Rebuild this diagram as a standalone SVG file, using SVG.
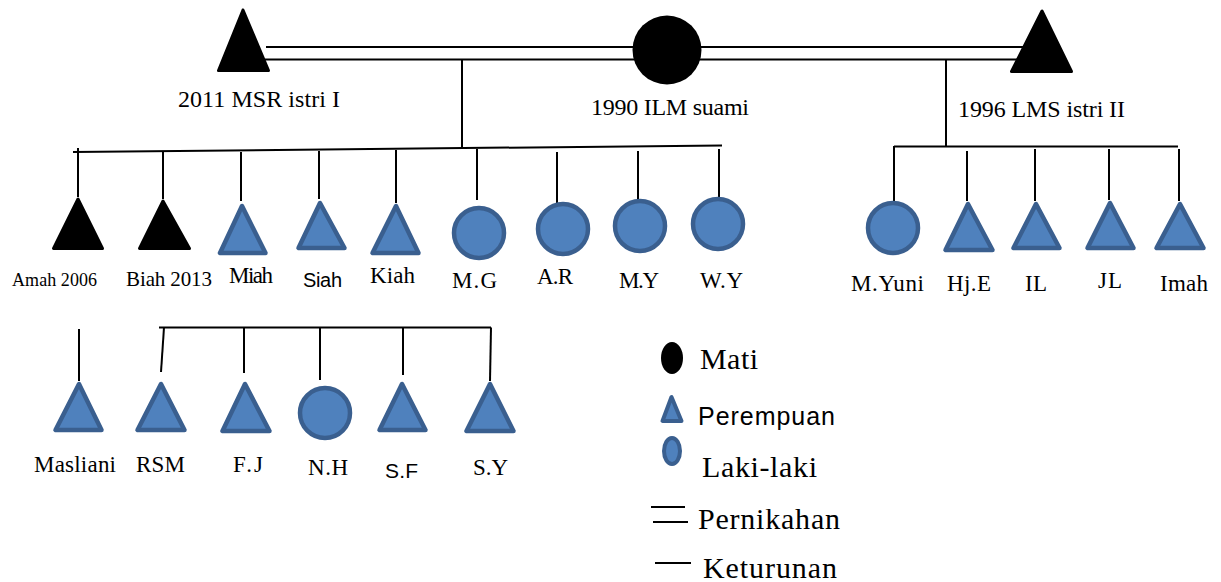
<svg xmlns="http://www.w3.org/2000/svg" width="1221" height="582" viewBox="0 0 1221 582">
<style>
.ln{stroke:#000;stroke-width:2;fill:none}
.dead{fill:#000;stroke:#000;stroke-width:3;stroke-linejoin:round}
.blue{fill:#4F81BD;stroke:#3A5F8F;stroke-width:4.5;stroke-linejoin:round}
.serif{font-family:"Liberation Serif","Times New Roman",serif;fill:#000}
.sans{font-family:"Liberation Sans",Arial,sans-serif;fill:#000}
.cl{font-size:23px}
</style>
<rect width="1221" height="582" fill="#fff"/>
<g id="connectors">
<line class="ln" x1="266" y1="47" x2="1024" y2="47"/>
<line class="ln" x1="265" y1="59.5" x2="1020" y2="59.5"/>
<line class="ln" x1="462" y1="59.5" x2="462" y2="148.5"/>
<line class="ln" x1="73" y1="152" x2="722" y2="145.5"/>
<line class="ln" x1="946" y1="59" x2="946" y2="146.5"/>
<line class="ln" x1="894" y1="146.5" x2="1178" y2="146.5"/>
<line class="ln" x1="78" y1="148" x2="78" y2="197"/>
<line class="ln" x1="163" y1="151" x2="163" y2="199"/>
<line class="ln" x1="241" y1="152" x2="241" y2="201"/>
<line class="ln" x1="319" y1="151" x2="319" y2="199"/>
<line class="ln" x1="396" y1="150" x2="396" y2="203"/>
<line class="ln" x1="477" y1="149" x2="477" y2="200"/>
<line class="ln" x1="557" y1="152" x2="557" y2="203"/>
<line class="ln" x1="638" y1="151" x2="638" y2="202"/>
<line class="ln" x1="719" y1="149" x2="719" y2="200"/>
<line class="ln" x1="894" y1="146" x2="894" y2="201"/>
<line class="ln" x1="967" y1="151" x2="967" y2="201"/>
<line class="ln" x1="1035" y1="149" x2="1035" y2="201"/>
<line class="ln" x1="1109" y1="149" x2="1109" y2="200"/>
<line class="ln" x1="1179" y1="149" x2="1179" y2="201"/>
<line class="ln" x1="79" y1="329" x2="79" y2="381"/>
<line class="ln" x1="159" y1="327.5" x2="491" y2="327.5"/>
<line class="ln" x1="164" y1="327.5" x2="161" y2="372"/>
<line class="ln" x1="244" y1="327.5" x2="244" y2="373"/>
<line class="ln" x1="320" y1="327.5" x2="320" y2="380"/>
<line class="ln" x1="403" y1="327.5" x2="403" y2="375"/>
<line class="ln" x1="491" y1="327.5" x2="490" y2="381"/>
</g>
<g id="node-msr">
<polygon class="dead" points="243,10 218.5,70.5 268.5,70.5"/>
<text class="serif" x="178" y="107" font-size="24" textLength="162">2011 MSR istri I</text>
</g>
<g id="node-ilm">
<circle cx="667" cy="50" r="34.5" fill="#000"/>
<text class="serif" x="591" y="115" font-size="24" textLength="158">1990 ILM suami</text>
</g>
<g id="node-lms">
<polygon class="dead" points="1042,11 1011.5,71.5 1071.5,71.5"/>
<text class="serif" x="958" y="117" font-size="24" textLength="167">1996 LMS istri II</text>
</g>
<g id="node-amah">
<polygon class="dead" points="78,199 53.5,248.5 102.5,248.5"/>
<text class="serif" x="12" y="286" font-size="18" textLength="85">Amah 2006</text>
</g>
<g id="node-biah">
<polygon class="dead" points="163,201 139.5,248.5 189.5,248.5"/>
<text class="serif" x="126" y="286" font-size="21" textLength="86">Biah 2013</text>
</g>
<g id="node-miah">
<polygon class="blue" points="242,206 220,253 265.5,253"/>
<text class="serif cl" x="229" y="283" textLength="44">Miah</text>
</g>
<g id="node-siah">
<polygon class="blue" points="320,203 298.5,248 344.5,248"/>
<text class="sans" x="303" y="287" font-size="20" textLength="39">Siah</text>
</g>
<g id="node-kiah">
<polygon class="blue" points="396,206 372.5,253 418.5,253"/>
<text class="serif cl" x="370" y="283" textLength="45">Kiah</text>
</g>
<g id="node-mg">
<circle class="blue" cx="479" cy="233" r="25"/>
<text class="serif cl" x="452" y="288" textLength="45">M.G</text>
</g>
<g id="node-ar">
<circle class="blue" cx="563" cy="229" r="25"/>
<text class="serif cl" x="537" y="284" textLength="36">A.R</text>
</g>
<g id="node-my">
<circle class="blue" cx="640" cy="226" r="25"/>
<text class="serif cl" x="619" y="288" textLength="40">M.Y</text>
</g>
<g id="node-wy">
<circle class="blue" cx="718" cy="224" r="25"/>
<text class="serif cl" x="700" y="288" textLength="43">W.Y</text>
</g>
<g id="node-myuni">
<circle class="blue" cx="893" cy="228" r="25"/>
<text class="serif cl" x="851" y="291" textLength="73">M.Yuni</text>
</g>
<g id="node-hje">
<polygon class="blue" points="968,204 945.5,250 992.5,250"/>
<text class="serif cl" x="947" y="291" textLength="44">Hj.E</text>
</g>
<g id="node-il">
<polygon class="blue" points="1036,204 1013.5,248 1059.5,248"/>
<text class="serif cl" x="1025" y="291" textLength="22">IL</text>
</g>
<g id="node-jl">
<polygon class="blue" points="1110,203 1087.5,248 1133.5,248"/>
<text class="serif cl" x="1098" y="288" textLength="24">JL</text>
</g>
<g id="node-imah">
<polygon class="blue" points="1180,204 1156.5,248 1203.5,248"/>
<text class="serif cl" x="1160" y="291" textLength="48">Imah</text>
</g>
<g id="node-masliani">
<polygon class="blue" points="79,384 55.5,430 101.5,430"/>
<text class="serif cl" x="34" y="472" textLength="82">Masliani</text>
</g>
<g id="node-rsm">
<polygon class="blue" points="161,384 137.5,430 184.5,430"/>
<text class="serif cl" x="136" y="472" textLength="49">RSM</text>
</g>
<g id="node-fj">
<polygon class="blue" points="245,384 222.5,431 269.5,431"/>
<text class="serif cl" x="233" y="472" textLength="30">F.J</text>
</g>
<g id="node-nh">
<circle class="blue" cx="325" cy="413" r="25"/>
<text class="serif cl" x="308" y="475" textLength="40">N.H</text>
</g>
<g id="node-sf">
<polygon class="blue" points="402,384 379.5,430 425.5,430"/>
<text class="sans" x="385" y="478" font-size="21" textLength="33">S.F</text>
</g>
<g id="node-sy">
<polygon class="blue" points="490,384 466.5,431 513.5,431"/>
<text class="serif cl" x="473" y="475" textLength="35">S.Y</text>
</g>
<g id="legend">
<ellipse cx="672" cy="358" rx="11" ry="16" fill="#000"/>
<text class="serif" x="700" y="369" font-size="30" textLength="58">Mati</text>
<polygon class="blue" points="671.5,397 662.5,421 681.5,421" style="stroke-width:4"/>
<text class="sans" x="698" y="425" font-size="25" textLength="137">Perempuan</text>
<ellipse class="blue" cx="672" cy="451" rx="8" ry="13" style="stroke-width:4"/>
<text class="serif" x="702" y="477" font-size="30" textLength="115">Laki-laki</text>
<line class="ln" x1="651" y1="507" x2="685" y2="507"/>
<line class="ln" x1="653" y1="522" x2="688" y2="522"/>
<text class="serif" x="698" y="529" font-size="30" textLength="142">Pernikahan</text>
<line class="ln" x1="655" y1="563" x2="691" y2="563"/>
<text class="serif" x="703" y="578" font-size="30" textLength="134">Keturunan</text>
</g>
</svg>
